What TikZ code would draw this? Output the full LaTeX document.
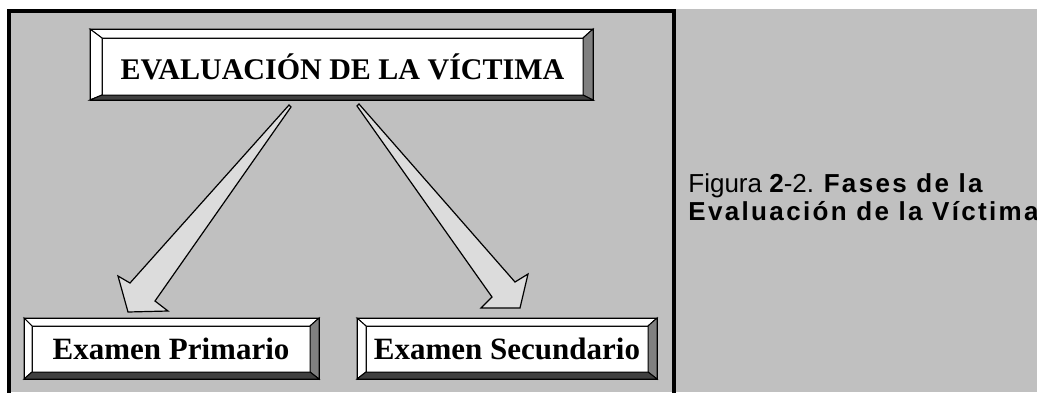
\documentclass[tikz,border=0pt]{standalone}
\usepackage{fontspec}
\setmainfont{Liberation Serif}
\setsansfont{Liberation Sans}
\usepackage{tikz}
\usetikzlibrary{positioning,calc}
\definecolor{fondo}{HTML}{C0C0C0}
\definecolor{biselgris}{HTML}{808080}
\definecolor{biseloscuro}{HTML}{404040}
\definecolor{relleno}{HTML}{DCDCDC}
\newcommand{\espaciado}{\addfontfeatures{LetterSpace=9}}
\newcommand{\biselado}[5]{%
	\filldraw[bisel, fill=white] (#1.north west) -- ($(#1.north west)+(-#2,-#3)$) -- ($(#1.north east)+(#4,-#3)$) -- (#1.north east) -- cycle;
	\filldraw[bisel, fill=white] (#1.north west) -- ($(#1.north west)+(-#2,-#3)$) -- ($(#1.south west)+(-#2,#5)$) -- (#1.south west) -- cycle;
	\filldraw[bisel, fill=biselgris] (#1.north east) -- ($(#1.north east)+(#4,-#3)$) -- ($(#1.south east)+(#4,#5)$) -- (#1.south east) -- cycle;
	\filldraw[bisel, fill=biseloscuro] (#1.south west) -- ($(#1.south west)+(-#2,#5)$) -- ($(#1.south east)+(#4,#5)$) -- (#1.south east) -- cycle;
	\draw[bisel] ($(#1.north west)+(-#2,-#3)$) rectangle ($(#1.south east)+(#4,#5)$);}

\begin{document}
\begin{tikzpicture}[x=0.5pt, y=-0.5pt, node distance=168pt, on grid,
		cajon/.style={rectangle, draw=black, fill=white, line width=0.5pt, inner sep=0pt, outer sep=0pt, font=\fontsize{15.5}{18}\selectfont\bfseries},
		bisel/.style={draw=black, line width=0.5pt},
		flecha/.style={fill=relleno, draw=black, line width=0.6pt, line join=miter},
		leyenda/.style={inner sep=0pt, anchor=base west, font=\sffamily\fontsize{13}{16}\selectfont}]
		\useasboundingbox (0,0) rectangle (1037,392);
		\fill[fondo] (7,9) rectangle (1037,392);
		\draw[line width=2pt] (9,400) -- (9,11) -- (674,11) -- (674,400);
		\node[cajon, minimum width=240.5pt, minimum height=28.5pt, font=\fontsize{15}{18}\selectfont\bfseries] (evaluacion) at (342.5,66.5) {EVALUACIÓN DE LA VÍCTIMA};
		\node[cajon, minimum width=139pt, minimum height=23pt] (primario) at (171,349) {Examen Primario};
		\node[cajon, minimum width=141pt, minimum height=23pt] (secundario) [right=of primario] {Examen Secundario};
		\biselado{evaluacion}{12}{9}{10}{5}
		\biselado{primario}{8}{8}{9}{7}
		\biselado{secundario}{9}{8}{9}{7}
		\filldraw[flecha] ($(evaluacion.south)+(-53.5,10)$) -- ($(primario.north)+(-41,-43)$) -- ($(primario.north)+(-53,-50)$) -- ($(primario.north)+(-43,-14)$) -- ($(primario.north)+(-3,-15)$) -- ($(primario.north)+(-16,-25)$) -- ($(evaluacion.south)+(-51.5,12)$) -- cycle;
		\filldraw[flecha] ($(evaluacion.south)+(16.5,9)$) -- ($(secundario.north)+(8,-44)$) -- ($(secundario.north)+(21,-52)$) -- ($(secundario.north)+(13,-18)$) -- ($(secundario.north)+(-26,-18)$) -- ($(secundario.north)+(-15,-29)$) -- ($(evaluacion.south)+(14.5,11)$) -- cycle;
		\node[leyenda] (pie) at (688,192) {Figura \textbf{2}-2. {\bfseries\espaciado Fases de la}};
		\node[leyenda] (piedos) at (688,220) {\bfseries\espaciado Evaluación de la Víctima};
	\end{tikzpicture}
\end{document}
